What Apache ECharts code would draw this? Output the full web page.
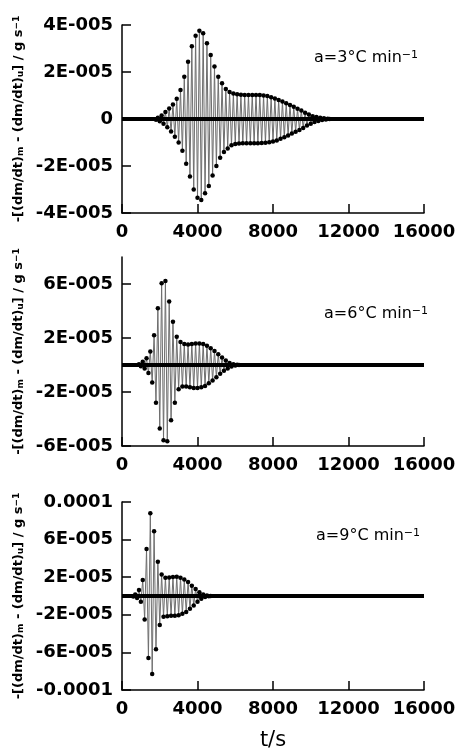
<!DOCTYPE html>
<html><head><meta charset="utf-8">
<script src="https://cdn.jsdelivr.net/npm/echarts@6/dist/echarts.min.js"></script>
<style>html,body{margin:0;padding:0;background:#fff}#c{width:459px;height:753px}</style>
</head><body><div id="c"></div>
<script>
// x axis (time, s)
const xTicks = [0, 4000, 8000, 12000, 16000];
const tStep = 100; // sampling step of the signal, s

// Signal values in units of 1E-6 g s^-1, one every tStep seconds from the start time
const start3 = 1800;
const rate3 = [
  -0.3, 0.5, -1.0, 1.5, -2.0, 3.0, -3.5, 4.5, -5.3, 6.2,
  -7.5, 8.6, -10.0, 12.3, -13.5, 18.0, -19.0, 24.4, -24.5, 31.0,
  -30.0, 35.4, -33.5, 37.6, -34.5, 36.5, -31.6, 32.2, -28.5, 27.2,
  -24.0, 22.3, -20.0, 18.0, -16.5, 15.2, -14.0, 12.8, -12.5, 11.5,
  -11.2, 10.8, -10.6, 10.5, -10.4, 10.3, -10.3, 10.2, -10.3, 10.2,
  -10.3, 10.2, -10.3, 10.2, -10.3, 10.2, -10.2, 10.0, -10.1, 9.8,
  -9.9, 9.3, -9.6, 8.7, -9.1, 8.1, -8.4, 7.4, -7.8, 6.7,
  -7.0, 6.0, -6.2, 5.2, -5.4, 4.4, -4.7, 3.6, -3.8, 2.7,
  -2.8, 1.9, -2.0, 1.2, -1.3, 0.8, -0.8, 0.5, -0.4, 0.3,
  -0.2, 0.1, 0
];
const start6 = 900;
const rate6 = [
  0.5, -1.0, 2.5, -2.5, 5.0, -6.0, 10.0, -13.0, 22.0, -28.0,
  42.0, -47.0, 60.5, -55.7, 62.3, -56.5, 47.0, -41.0, 32.0, -28.0,
  21.0, -18.0, 17.0, -16.0, 15.5, -16.0, 15.2, -16.5, 15.6, -17.0,
  16.0, -17.0, 16.0, -16.5, 15.5, -15.5, 14.3, -13.5, 12.5, -11.5,
  10.3, -9.0, 8.0, -6.5, 5.5, -4.3, 3.3, -2.5, 1.5, -1.2,
  0.6, -0.4, 0.2, 0
];
const start9 = 600;
const rate9 = [
  -0.5, 1.5, -2.0, 6.4, -6.0, 17.0, -25.0, 50.0, -66.0, 88.0,
  -83.0, 69.0, -56.6, 36.4, -30.8, 23.0, -22.0, 19.5, -21.5, 19.8,
  -21.0, 20.3, -21.0, 20.5, -20.5, 19.5, -19.0, 17.5, -17.0, 15.0,
  -13.5, 11.0, -10.0, 7.5, -6.0, 4.0, -3.0, 1.5, -1.0, 0.5,
  -0.3, 0
];

// y axis ranges and tick labels
const yRange3 = [-4e-5, 4e-5];
const yTicks3 = [-4e-5, -2e-5, 0, 2e-5, 4e-5];
const yLabels3 = ['-4E-005', '-2E-005', '0', '2E-005', '4E-005'];
const yRange6 = [-6e-5, 8e-5];
const yTicks6 = [-6e-5, -2e-5, 2e-5, 6e-5];
const yLabels6 = ['-6E-005', '-2E-005', '2E-005', '6E-005'];
const yRange9 = [-1e-4, 1e-4];
const yTicks9 = [-1e-4, -6e-5, -2e-5, 2e-5, 6e-5, 1e-4];
const yLabels9 = ['-0.0001', '-6E-005', '-2E-005', '2E-005', '6E-005', '0.0001'];

const annotations = ['a=3°C min', 'a=6°C min', 'a=9°C min'];
const yTitle = '-[(dm/dt){s|m} - (dm/dt){s|u}] / g s{p|−1}';
const xTitle = 't/s';

// ---- build ----
function toSeries(start, vals) {
  return vals.map((v, i) => [start + i * tStep, v * 1e-6]);
}
const panels = [
  { data: toSeries(start3, rate3), range: yRange3, ticks: yTicks3, labels: yLabels3, grid: { left: 122, top: 25, width: 302, height: 188 }, note: annotations[0], noteX: 314, noteY: 50 },
  { data: toSeries(start6, rate6), range: yRange6, ticks: yTicks6, labels: yLabels6, grid: { left: 122, top: 257, width: 302, height: 189 }, note: annotations[1], noteX: 324, noteY: 306 },
  { data: toSeries(start9, rate9), range: yRange9, ticks: yTicks9, labels: yLabels9, grid: { left: 122, top: 502, width: 302, height: 188 }, note: annotations[2], noteX: 316, noteY: 528 }
];
const FF = 'DejaVu Sans';
const axisLineStyle = { color: '#000', width: 1.5 };

const option = {
  animation: false,
  backgroundColor: '#fff',
  grid: panels.map(p => p.grid),
  title: panels.map(p => ({
    text: p.note + '{p|−1}',
    left: p.noteX, top: p.noteY, padding: 0,
    textStyle: {
      fontFamily: FF, fontSize: 16, fontWeight: 'normal', color: '#000',
      rich: { p: { fontFamily: FF, fontSize: 11, color: '#000', verticalAlign: 'top' } }
    }
  })),
  xAxis: panels.map((p, i) => ({
    type: 'value', gridIndex: i, min: xTicks[0], max: xTicks[xTicks.length - 1], interval: xTicks[1] - xTicks[0],
    axisLine: { show: true, onZero: false, lineStyle: axisLineStyle },
    axisTick: { show: true, inside: true, length: 9, lineStyle: axisLineStyle },
    splitLine: { show: false },
    axisLabel: { fontFamily: FF, fontSize: 18, fontWeight: 'bold', color: '#000', margin: 10, showMinLabel: true, showMaxLabel: true, hideOverlap: false, formatter: v => String(v) },
    name: i === 2 ? xTitle : '',
    nameLocation: 'middle', nameGap: 40,
    nameTextStyle: { fontFamily: FF, fontSize: 21, color: '#000' }
  })),
  yAxis: panels.map((p, i) => ({
    type: 'value', gridIndex: i, min: p.range[0], max: p.range[1],
    axisLine: { show: true, onZero: false, lineStyle: axisLineStyle },
    axisTick: { show: true, inside: true, length: 9, lineStyle: axisLineStyle, customValues: p.ticks },
    splitLine: { show: false },
    axisLabel: {
      customValues: p.ticks,
      fontFamily: FF, fontSize: 18, fontWeight: 'bold', color: '#000', margin: 9,
      formatter: v => {
        const k = p.ticks.findIndex(t => Math.abs(t - v) < 1e-9);
        return k >= 0 ? p.labels[k] : '';
      }
    },
    name: yTitle, nameLocation: 'middle', nameGap: 85, nameRotate: 90,
    nameTextStyle: {
      fontFamily: FF, fontSize: 13, fontWeight: 'bold', color: '#000',
      rich: {
        s: { fontFamily: FF, fontSize: 9, fontWeight: 'bold', color: '#000', verticalAlign: 'bottom' },
        p: { fontFamily: FF, fontSize: 9, fontWeight: 'bold', color: '#000', verticalAlign: 'top' }
      }
    }
  })),
  series: panels.map((p, i) => ({
    type: 'line', xAxisIndex: i, yAxisIndex: i, data: p.data,
    symbol: 'circle', symbolSize: 4.5, showSymbol: true,
    itemStyle: { color: '#000' },
    lineStyle: { color: '#6e6e6e', width: 1 },
    silent: true,
    markLine: {
      silent: true, symbol: 'none', animation: false,
      label: { show: false },
      lineStyle: { color: '#000', width: 4, type: 'solid' },
      data: [{ yAxis: 0 }]
    }
  }))
};
const chart = echarts.init(document.getElementById('c'), null, { renderer: 'canvas' });
chart.setOption(option);
</script>
</body></html>
